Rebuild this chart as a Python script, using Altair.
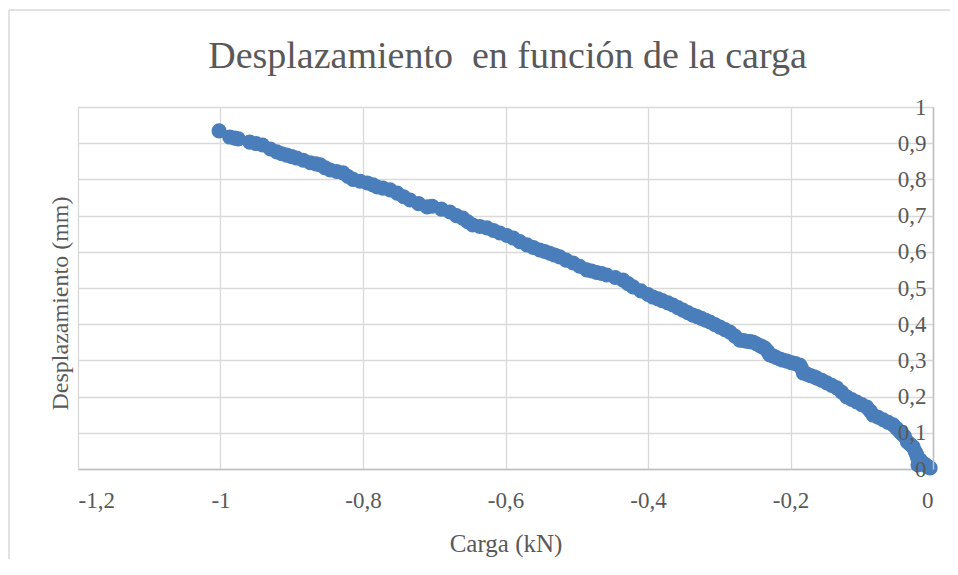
import altair as alt
import pandas as pd

carga = [
    -1.002, -0.987, -0.980, -0.975, -0.959, -0.950, -0.941, -0.930, -0.921, -0.914,
    -0.907, -0.900, -0.893, -0.884, -0.874, -0.866, -0.860, -0.853, -0.846, -0.837,
    -0.828, -0.821, -0.814, -0.804, -0.794, -0.786, -0.780,
    -0.772, -0.762, -0.752, -0.743, -0.734, -0.722, -0.710, -0.703, -0.690, -0.678,
    -0.669, -0.660, -0.653, -0.646, -0.636, -0.626, -0.617, -0.608, -0.598, -0.589,
    -0.580, -0.570, -0.561, -0.552, -0.545, -0.538, -0.531, -0.524, -0.515, -0.505,
    -0.496, -0.486, -0.479, -0.472, -0.465, -0.458, -0.446, -0.435, -0.428, -0.421,
    -0.410, -0.400, -0.393,
    -0.386, -0.380, -0.372, -0.365, -0.358, -0.351, -0.344, -0.337, -0.331, -0.325,
    -0.319, -0.313, -0.306, -0.299, -0.292, -0.285, -0.278, -0.271, -0.266, -0.262,
    -0.257, -0.253, -0.248, -0.244, -0.240, -0.236, -0.232, -0.229, -0.224, -0.220,
    -0.215, -0.211, -0.205, -0.199, -0.193, -0.187, -0.185, -0.182, -0.177, -0.172,
    -0.167, -0.163, -0.156, -0.149, -0.142, -0.135, -0.128, -0.121, -0.114, -0.107,
    -0.100, -0.093, -0.088, -0.084, -0.077, -0.070, -0.063, -0.056, -0.051, -0.046,
    -0.043, -0.040, -0.036, -0.032, -0.028, -0.025, -0.023, -0.022, -0.021, -0.018,
    -0.015, -0.012, -0.010, -0.007, -0.004,
]
desplazamiento = [
    0.934, 0.917, 0.914, 0.912, 0.903, 0.899, 0.895, 0.884, 0.876, 0.871,
    0.867, 0.863, 0.859, 0.853, 0.846, 0.843, 0.840, 0.832, 0.826, 0.822,
    0.818, 0.808, 0.800, 0.795, 0.790, 0.785, 0.779,
    0.776, 0.771, 0.762, 0.752, 0.743, 0.733, 0.724, 0.726, 0.718, 0.710,
    0.700, 0.693, 0.683, 0.674, 0.670, 0.666, 0.659, 0.652, 0.645, 0.638,
    0.628, 0.619, 0.612, 0.605, 0.601, 0.596, 0.591, 0.586, 0.577, 0.569,
    0.560, 0.550, 0.547, 0.543, 0.540, 0.536, 0.529, 0.522, 0.512, 0.503,
    0.492, 0.482, 0.475,
    0.470, 0.465, 0.459, 0.453, 0.446, 0.439, 0.432, 0.425, 0.421, 0.416,
    0.411, 0.406, 0.399, 0.392, 0.385, 0.378, 0.367, 0.356, 0.355, 0.353,
    0.352, 0.351, 0.346, 0.342, 0.338, 0.334, 0.325, 0.315, 0.312, 0.308,
    0.304, 0.301, 0.298, 0.294, 0.291, 0.287, 0.280, 0.265, 0.262, 0.258,
    0.255, 0.251, 0.245, 0.238, 0.231, 0.224, 0.212, 0.199, 0.192, 0.185,
    0.178, 0.171, 0.160, 0.149, 0.143, 0.136, 0.129, 0.122, 0.112, 0.102,
    0.096, 0.090, 0.075, 0.068, 0.061, 0.048, 0.040, 0.033, 0.011, 0.025,
    0.017, 0.014, 0.010, 0.006, 0.003,
]
x_ticks = [-1.2, -1.0, -0.8, -0.6, -0.4, -0.2, 0.0]
y_ticks = [0.0, 0.1, 0.2, 0.3, 0.4, 0.5, 0.6, 0.7, 0.8, 0.9, 1.0]
title_text = ["Desplazamiento \u00a0en función de la carga"]

df = pd.DataFrame({"carga": carga, "desp": desplazamiento})

W, H = 855, 362
FONT = "Liberation Serif"
TXT = "#595959"
GRID = "#d9d9d9"
AXISLINE = "#bfbfbf"
BLUE = "#4a7ebb"

x_label = "(datum.value < -0.0001 ? '-' : '') + replace(format(abs(datum.value), '.1~f'), '.', ',')"
y_label = "replace(format(datum.value, '.1~f'), '.', ',')"

one = alt.Data(values=[{"k": 1}])

border_left = alt.Chart(one).mark_rule(color=GRID, strokeWidth=1.5).encode(
    x=alt.value(-69), y=alt.value(-97), y2=alt.value(H + 120)
)
border_top = alt.Chart(one).mark_rule(color=GRID, strokeWidth=1.5).encode(
    x=alt.value(-69), x2=alt.value(W + 40), y=alt.value(-97)
)

title = alt.Chart(alt.Data(values=[{"t": t} for t in title_text])).mark_text(
    font=FONT, fontSize=38, color=TXT, align="center", baseline="alphabetic"
).encode(text="t:N", x=alt.value(W / 2 + 2), y=alt.value(-39))

x_scale = alt.Scale(domain=[-1.2, 0], nice=False, zero=False)
y_scale = alt.Scale(domain=[0, 1], nice=False)

points = alt.Chart(df).mark_point(
    size=185, filled=True, color=BLUE, opacity=1, stroke=BLUE, strokeWidth=1.5
).encode(
    x=alt.X(
        "carga:Q",
        scale=x_scale,
        axis=alt.Axis(
            title="Carga (kN)", values=x_ticks, labelExpr=x_label,
            grid=True, gridColor=GRID, gridWidth=1.3,
            domainColor=AXISLINE, domainWidth=1.5,
            ticks=False, tickSize=0, labelPadding=31, labelBaseline="middle",
            labelFont=FONT, labelFontSize=23, labelColor=TXT,
            titleFont=FONT, titleFontSize=25, titleColor=TXT, titleFontWeight="normal",
            titleY=74, titleBaseline="middle",
        ),
    ),
    y=alt.Y(
        "desp:Q",
        scale=y_scale,
        axis=alt.Axis(
            values=y_ticks, grid=True, gridColor=GRID, gridWidth=1.3,
            labels=False, domain=False, ticks=False, title=None,
        ),
    ),
)

# Right-hand value axis drawn above the markers (as in the reference)
yaxis_layer = alt.Chart(df).mark_point(opacity=0, size=1).encode(
    x=alt.X("carga:Q", scale=x_scale),
    y=alt.Y(
        "desp:Q",
        scale=y_scale,
        axis=alt.Axis(
            orient="left", offset=-W, zindex=2,
            title="Desplazamiento (mm)", values=y_ticks, labelExpr=y_label,
            grid=False, domainColor=AXISLINE, domainWidth=1.5,
            ticks=False, tickSize=0, labelPadding=7,
            labelFont=FONT, labelFontSize=23, labelColor=TXT,
            titleFont=FONT, titleFontSize=24, titleColor=TXT, titleFontWeight="normal",
            titleAngle=270, titleX=-W - 18, titleY=196, titleBaseline="middle",
            titleAlign="center",
        ),
    ),
)

chart = alt.layer(border_left, border_top, points, yaxis_layer, title).resolve_axis(
    y="independent"
).properties(
    width=W, height=H,
    autosize=alt.AutoSizeParams(type="none"),
    padding={"left": 70, "top": 99, "right": 17, "bottom": 90},
).configure_view(stroke="transparent").configure(background="white")

chart.save("out.html", embed_options={"renderer": "svg", "actions": False})
